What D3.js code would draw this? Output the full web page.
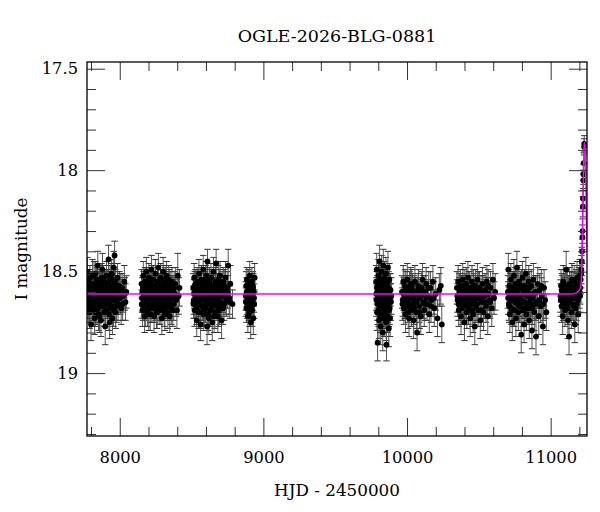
<!DOCTYPE html>
<html>
<head>
<meta charset="utf-8">
<script src="https://cdn.jsdelivr.net/npm/d3@7"></script>
<style>
  body { margin: 0; background: #fff; }
  svg text { font-family: "DejaVu Serif", serif; fill: #000; }
</style>
</head>
<body>
<div id="chart"></div>
<script>
// OGLE light curve, one array per observing season: [HJD-2450000, I mag, error]
var s2017 = [[7775,18.50,.07],[7777,18.63,.06],[7780,18.58,.07],[7782,18.67,.08],[7785,18.55,.06],[7787,18.61,.07],[7790,18.70,.08],[7792,18.53,.06],[7795,18.64,.07],[7798,18.59,.06],[7800,18.76,.08],[7803,18.62,.07],[7806,18.57,.06],[7808,18.66,.07],[7811,18.52,.08],[7814,18.60,.06],[7816,18.69,.07],[7819,18.56,.06],[7822,18.63,.07],[7825,18.73,.08],[7827,18.58,.07],[7830,18.51,.06],[7833,18.65,.07],[7836,18.61,.06],[7838,18.54,.07],[7841,18.68,.08],[7844,18.60,.07],[7847,18.47,.07],[7850,18.63,.06],[7852,18.71,.08],[7855,18.57,.07],[7858,18.62,.06],[7861,18.55,.07],[7863,18.66,.07],[7866,18.59,.06],[7869,18.74,.08],[7872,18.53,.07],[7874,18.64,.06],[7877,18.60,.07],[7880,18.49,.08],[7883,18.67,.07],[7886,18.58,.06],[7888,18.62,.07],[7891,18.70,.07],[7894,18.55,.06],[7897,18.61,.07],[7899,18.77,.09],[7902,18.57,.07],[7905,18.65,.06],[7908,18.52,.07],[7911,18.63,.07],[7913,18.69,.08],[7916,18.59,.06],[7919,18.56,.07],[7922,18.44,.07],[7924,18.66,.07],[7927,18.61,.06],[7930,18.75,.08],[7933,18.54,.07],[7935,18.62,.07],[7938,18.58,.06],[7941,18.68,.07],[7944,18.51,.07],[7947,18.64,.06],[7949,18.73,.08],[7952,18.57,.07],[7955,18.60,.07],[7958,18.48,.08],[7961,18.67,.07],[7964,18.42,.07],[7966,18.62,.07],[7969,18.55,.06],[7972,18.70,.08],[7976,18.59,.07],[7980,18.64,.07],[7984,18.53,.07],[7988,18.66,.08],[7993,18.60,.07],[7998,18.57,.07],[8004,18.63,.08],[8010,18.68,.08],[8017,18.58,.07],[8024,18.62,.08],[8032,18.55,.08],[8040,18.65,.09],[8046,18.60,.08],
  [7776,18.60,.07],[7779,18.66,.07],[7784,18.62,.07],[7788,18.56,.07],[7793,18.68,.07],[7797,18.61,.07],[7802,18.57,.07],[7807,18.64,.07],[7812,18.67,.07],[7817,18.60,.07],[7821,18.52,.07],[7826,18.65,.07],[7831,18.70,.07],[7835,18.58,.07],[7840,18.63,.07],[7845,18.55,.07],[7849,18.68,.07],[7854,18.61,.07],[7859,18.72,.08],[7864,18.56,.07],[7868,18.62,.07],[7873,18.67,.07],[7878,18.58,.07],[7882,18.63,.07],[7887,18.54,.07],[7892,18.65,.07],[7896,18.59,.07],[7901,18.69,.08],[7906,18.60,.07],[7910,18.56,.07],[7915,18.66,.07],[7920,18.62,.07],[7925,18.71,.08],[7929,18.57,.07],[7934,18.64,.07],[7939,18.53,.07],[7943,18.67,.07],[7948,18.61,.07],[7953,18.58,.07],[7957,18.69,.08],[7962,18.55,.07],[7967,18.64,.07],[7971,18.60,.07],[7978,18.67,.08],[7986,18.57,.07],[7996,18.62,.08],[8007,18.59,.08],[8020,18.66,.08],[8036,18.61,.08]];

var s2018 = [[8152,18.56,.07],[8155,18.63,.07],[8158,18.69,.08],[8161,18.58,.06],[8164,18.52,.07],[8167,18.65,.07],[8170,18.61,.06],[8173,18.72,.08],[8176,18.55,.07],[8179,18.62,.06],[8182,18.67,.07],[8185,18.50,.07],[8188,18.59,.06],[8191,18.64,.07],[8194,18.70,.07],[8197,18.57,.06],[8200,18.61,.07],[8203,18.53,.07],[8206,18.66,.06],[8209,18.60,.07],[8212,18.71,.08],[8215,18.56,.06],[8218,18.63,.07],[8221,18.49,.07],[8224,18.68,.07],[8227,18.58,.06],[8230,18.62,.07],[8233,18.54,.07],[8236,18.65,.06],[8239,18.72,.08],[8242,18.59,.07],[8245,18.61,.06],[8248,18.51,.07],[8251,18.67,.07],[8254,18.57,.06],[8257,18.63,.07],[8260,18.70,.08],[8263,18.55,.07],[8266,18.60,.06],[8269,18.48,.07],[8272,18.66,.07],[8275,18.62,.06],[8278,18.58,.07],[8281,18.69,.07],[8284,18.53,.07],[8287,18.64,.06],[8290,18.60,.07],[8293,18.73,.08],[8296,18.56,.07],[8299,18.62,.06],[8302,18.50,.07],[8305,18.67,.07],[8308,18.59,.06],[8311,18.63,.07],[8314,18.71,.08],[8317,18.55,.07],[8320,18.61,.06],[8323,18.66,.07],[8326,18.52,.07],[8329,18.64,.07],[8332,18.58,.06],[8335,18.70,.08],[8338,18.60,.07],[8341,18.54,.07],[8344,18.65,.07],[8348,18.72,.08],[8351,18.57,.07],[8355,18.62,.07],[8359,18.68,.08],[8363,18.55,.07],[8367,18.63,.07],[8371,18.59,.07],[8376,18.66,.08],[8381,18.61,.08],[8387,18.56,.08],[8393,18.64,.08],[8398,18.69,.09],[8404,18.52,.11],[8410,18.62,.09],[8416,18.58,.09],
  [8153,18.66,.07],[8157,18.60,.07],[8162,18.67,.07],[8166,18.57,.07],[8171,18.64,.07],[8175,18.59,.07],[8180,18.69,.08],[8184,18.62,.07],[8189,18.55,.07],[8193,18.66,.07],[8198,18.60,.07],[8202,18.71,.08],[8207,18.57,.07],[8211,18.63,.07],[8216,18.68,.07],[8220,18.59,.07],[8225,18.54,.07],[8229,18.66,.07],[8234,18.61,.07],[8238,18.57,.07],[8243,18.68,.07],[8247,18.63,.07],[8252,18.58,.07],[8256,18.70,.08],[8261,18.61,.07],[8265,18.55,.07],[8270,18.64,.07],[8274,18.69,.07],[8279,18.60,.07],[8283,18.56,.07],[8288,18.67,.07],[8292,18.62,.07],[8297,18.58,.07],[8301,18.65,.07],[8306,18.54,.07],[8310,18.69,.08],[8315,18.60,.07],[8319,18.66,.07],[8324,18.57,.07],[8328,18.62,.07],[8333,18.67,.07],[8337,18.59,.07],[8342,18.63,.07],[8346,18.56,.07],[8353,18.66,.08],[8361,18.60,.08],[8369,18.69,.08],[8379,18.58,.08],[8390,18.62,.08]];

var s2019 = [[8512,18.58,.07],[8515,18.64,.07],[8518,18.53,.07],[8521,18.69,.08],[8524,18.60,.06],[8527,18.56,.07],[8530,18.66,.07],[8533,18.62,.06],[8536,18.74,.08],[8539,18.55,.07],[8542,18.63,.07],[8545,18.59,.06],[8548,18.70,.08],[8551,18.51,.07],[8554,18.65,.07],[8557,18.61,.06],[8560,18.57,.07],[8563,18.76,.08],[8566,18.62,.07],[8569,18.54,.07],[8572,18.67,.07],[8575,18.59,.06],[8578,18.63,.07],[8581,18.49,.07],[8584,18.71,.08],[8587,18.58,.07],[8590,18.64,.07],[8593,18.56,.06],[8596,18.68,.07],[8599,18.60,.07],[8602,18.52,.07],[8605,18.66,.07],[8608,18.77,.09],[8611,18.45,.06],[8614,18.62,.07],[8617,18.58,.07],[8620,18.73,.08],[8623,18.55,.07],[8626,18.64,.07],[8629,18.60,.06],[8632,18.69,.08],[8635,18.53,.07],[8638,18.62,.07],[8641,18.57,.06],[8644,18.75,.09],[8647,18.61,.07],[8650,18.66,.07],[8653,18.50,.07],[8656,18.63,.07],[8659,18.59,.06],[8662,18.70,.08],[8665,18.56,.07],[8668,18.64,.07],[8671,18.46,.07],[8674,18.61,.07],[8677,18.67,.07],[8680,18.58,.07],[8683,18.72,.08],[8686,18.54,.07],[8689,18.63,.07],[8692,18.60,.07],[8695,18.68,.08],[8698,18.52,.07],[8701,18.65,.07],[8705,18.59,.07],[8709,18.74,.09],[8713,18.57,.07],[8717,18.62,.08],[8721,18.55,.07],[8726,18.66,.08],[8731,18.60,.08],[8736,18.53,.08],[8742,18.64,.08],[8748,18.58,.08],[8755,18.47,.08],[8762,18.63,.08],[8770,18.56,.09],[8785,18.66,.07],
  [8513,18.66,.07],[8517,18.61,.07],[8522,18.57,.07],[8526,18.64,.07],[8531,18.59,.07],[8535,18.68,.08],[8540,18.62,.07],[8544,18.56,.07],[8549,18.65,.07],[8553,18.60,.07],[8558,18.70,.08],[8562,18.58,.07],[8567,18.63,.07],[8571,18.55,.07],[8576,18.67,.07],[8580,18.61,.07],[8585,18.57,.07],[8589,18.69,.08],[8594,18.62,.07],[8598,18.54,.07],[8603,18.64,.07],[8607,18.59,.07],[8612,18.66,.07],[8616,18.71,.08],[8621,18.60,.07],[8625,18.56,.07],[8630,18.65,.07],[8634,18.61,.07],[8639,18.68,.08],[8643,18.57,.07],[8648,18.63,.07],[8652,18.59,.07],[8657,18.72,.08],[8661,18.62,.07],[8666,18.55,.07],[8670,18.66,.07],[8675,18.60,.07],[8679,18.64,.07],[8684,18.58,.07],[8688,18.69,.08],[8693,18.61,.07],[8697,18.56,.07],[8703,18.66,.08],[8711,18.62,.08],[8719,18.68,.08],[8728,18.57,.08],[8739,18.63,.08],[8751,18.60,.08],[8766,18.65,.08]];

var s2020 = [[8877,18.62,.07],[8880,18.57,.07],[8882,18.68,.07],[8885,18.54,.06],[8887,18.64,.07],[8890,18.60,.07],[8892,18.72,.08],[8895,18.56,.07],[8897,18.63,.07],[8900,18.59,.06],[8902,18.70,.07],[8905,18.52,.07],[8907,18.66,.07],[8910,18.61,.07],[8912,18.75,.08],[8915,18.58,.07],[8917,18.65,.07],[8920,18.55,.07],[8922,18.69,.08],[8925,18.62,.07],[8927,18.57,.07],[8930,18.73,.08],[8933,18.60,.07],[8936,18.66,.07],[8939,18.53,.07],
  [8878,18.65,.07],[8884,18.60,.07],[8889,18.66,.07],[8894,18.62,.07],[8899,18.67,.07],[8904,18.59,.07],[8909,18.64,.07],[8914,18.68,.07],[8919,18.61,.07],[8924,18.65,.07],[8929,18.58,.07],[8935,18.63,.07]];

var s2022 = [[9785,18.55,.08],[9787,18.64,.08],[9789,18.49,.08],[9791,18.70,.09],[9793,18.60,.08],[9795,18.85,.09],[9797,18.57,.08],[9799,18.66,.08],[9801,18.52,.08],[9803,18.62,.08],[9805,18.74,.09],[9807,18.58,.08],[9809,18.45,.08],[9811,18.68,.08],[9813,18.61,.08],[9815,18.54,.08],[9817,18.77,.09],[9819,18.63,.08],[9821,18.59,.08],[9823,18.50,.08],[9825,18.71,.08],[9827,18.56,.08],[9829,18.65,.08],[9831,18.80,.09],[9833,18.60,.08],[9835,18.47,.08],[9837,18.67,.08],[9839,18.58,.08],[9841,18.73,.09],[9843,18.53,.08],[9845,18.62,.08],[9847,18.69,.08],[9849,18.57,.08],[9851,18.64,.08],[9853,18.51,.08],[9855,18.75,.09],[9857,18.86,.08],[9859,18.60,.08],[9861,18.66,.08],[9863,18.55,.08],[9865,18.72,.08],[9867,18.48,.08],[9869,18.63,.08],[9871,18.58,.08],[9873,18.78,.09],[9875,18.61,.08],[9877,18.54,.08],[9879,18.68,.08],[9882,18.73,.09],[9885,18.59,.08],[9888,18.65,.09],[9891,18.62,.09],
  [9786,18.61,.08],[9790,18.58,.08],[9794,18.66,.08],[9798,18.62,.08],[9802,18.69,.08],[9806,18.56,.08],[9810,18.63,.08],[9814,18.72,.08],[9818,18.59,.08],[9822,18.65,.08],[9826,18.61,.08],[9830,18.55,.08],[9834,18.68,.08],[9838,18.62,.08],[9842,18.58,.08],[9846,18.66,.08],[9850,18.70,.08],[9854,18.60,.08],[9858,18.64,.08],[9862,18.57,.08],[9866,18.67,.08],[9870,18.61,.08],[9874,18.69,.08],[9878,18.59,.08],[9884,18.64,.08]];

var s2023 = [[9965,18.60,.08],[9970,18.64,.08],[9974,18.55,.08],[9978,18.68,.08],[9982,18.62,.08],[9986,18.57,.08],[9990,18.71,.09],[9994,18.60,.08],[9998,18.65,.08],[10002,18.54,.08],[10006,18.67,.08],[10010,18.61,.08],[10014,18.73,.09],[10018,18.58,.08],[10022,18.63,.08],[10026,18.56,.08],[10030,18.69,.08],[10034,18.62,.08],[10038,18.59,.08],[10042,18.66,.08],[10046,18.74,.09],[10050,18.60,.08],[10055,18.55,.08],[10060,18.64,.08],[10065,18.70,.08],[10070,18.80,.09],[10075,18.61,.08],[10080,18.57,.08],[10085,18.67,.08],[10090,18.63,.08],[10096,18.72,.09],[10102,18.58,.08],[10108,18.54,.08],[10114,18.65,.08],[10120,18.69,.08],[10126,18.60,.08],[10133,18.56,.08],[10140,18.66,.08],[10147,18.62,.08],[10155,18.71,.09],[10163,18.58,.08],[10171,18.64,.08],[10180,18.55,.08],[10190,18.68,.09],[10200,18.61,.08],[10212,18.73,.09],[10225,18.59,.08],[10235,18.57,.09],[10242,18.76,.09],
  [9968,18.66,.08],[9976,18.61,.08],[9984,18.65,.08],[9992,18.58,.08],[10000,18.62,.08],[10008,18.70,.08],[10016,18.60,.08],[10024,18.66,.08],[10032,18.57,.08],[10040,18.63,.08],[10048,18.68,.08],[10058,18.61,.08],[10068,18.65,.08],[10078,18.59,.08],[10088,18.70,.08],[10099,18.62,.08],[10111,18.60,.08],[10123,18.66,.08],[10137,18.63,.08],[10151,18.58,.08],[10167,18.67,.08],[10186,18.63,.08]];

var s2024 = [[10347,18.58,.08],[10352,18.64,.08],[10356,18.55,.08],[10360,18.69,.08],[10364,18.61,.08],[10368,18.66,.08],[10372,18.57,.08],[10376,18.72,.09],[10380,18.60,.08],[10384,18.63,.08],[10388,18.54,.08],[10392,18.67,.08],[10396,18.62,.08],[10400,18.75,.09],[10404,18.59,.08],[10408,18.65,.08],[10412,18.56,.08],[10416,18.70,.08],[10420,18.61,.08],[10424,18.53,.08],[10428,18.68,.08],[10432,18.63,.08],[10436,18.58,.08],[10440,18.73,.09],[10444,18.60,.08],[10448,18.66,.08],[10452,18.55,.08],[10456,18.64,.08],[10460,18.71,.09],[10464,18.59,.08],[10468,18.62,.08],[10472,18.77,.09],[10476,18.57,.08],[10480,18.67,.08],[10485,18.61,.08],[10490,18.54,.08],[10495,18.69,.08],[10500,18.63,.08],[10505,18.58,.08],[10510,18.74,.09],[10515,18.60,.08],[10520,18.65,.08],[10526,18.56,.08],[10532,18.70,.09],[10538,18.62,.08],[10544,18.59,.08],[10550,18.67,.08],[10556,18.55,.08],[10562,18.72,.09],[10568,18.61,.08],[10575,18.64,.08],[10582,18.58,.08],[10590,18.68,.09],[10598,18.54,.08],[10606,18.63,.08],[10614,18.60,.09],
  [10350,18.62,.08],[10358,18.66,.08],[10366,18.59,.08],[10374,18.64,.08],[10382,18.68,.08],[10390,18.60,.08],[10398,18.57,.08],[10406,18.63,.08],[10414,18.66,.08],[10422,18.60,.08],[10430,18.58,.08],[10438,18.65,.08],[10446,18.62,.08],[10454,18.69,.08],[10462,18.57,.08],[10470,18.64,.08],[10478,18.60,.08],[10488,18.66,.08],[10498,18.58,.08],[10508,18.63,.08],[10518,18.69,.08],[10529,18.60,.08],[10541,18.65,.08],[10553,18.61,.08],[10565,18.57,.08],[10579,18.65,.08]];

var s2025 = [[10702,18.60,.08],[10705,18.49,.08],[10709,18.66,.08],[10712,18.57,.08],[10716,18.71,.09],[10719,18.62,.08],[10723,18.54,.08],[10726,18.68,.08],[10730,18.60,.08],[10733,18.75,.09],[10737,18.58,.08],[10740,18.64,.08],[10744,18.52,.08],[10747,18.69,.08],[10751,18.61,.08],[10754,18.56,.08],[10758,18.73,.09],[10761,18.63,.08],[10765,18.48,.08],[10768,18.66,.08],[10772,18.59,.08],[10775,18.70,.09],[10779,18.55,.08],[10782,18.62,.08],[10786,18.67,.08],[10790,18.58,.08],[10795,18.81,.09],[10799,18.64,.08],[10803,18.53,.08],[10807,18.69,.08],[10811,18.60,.08],[10815,18.76,.09],[10819,18.57,.08],[10823,18.65,.08],[10827,18.51,.08],[10831,18.71,.08],[10835,18.62,.08],[10839,18.58,.08],[10843,18.68,.08],[10847,18.55,.08],[10851,18.74,.09],[10855,18.61,.08],[10860,18.66,.08],[10865,18.57,.08],[10870,18.79,.09],[10875,18.63,.08],[10880,18.54,.08],[10886,18.70,.09],[10892,18.60,.08],[10898,18.82,.09],[10904,18.65,.08],[10910,18.56,.08],[10917,18.72,.09],[10924,18.59,.08],[10931,18.67,.08],[10938,18.62,.09],[10946,18.77,.09],[10954,18.58,.09],[10962,18.64,.09],[10970,18.70,.09],
  [10704,18.63,.08],[10711,18.67,.08],[10718,18.59,.08],[10725,18.64,.08],[10732,18.61,.08],[10739,18.69,.08],[10746,18.58,.08],[10753,18.65,.08],[10760,18.60,.08],[10767,18.56,.08],[10774,18.64,.08],[10781,18.67,.08],[10788,18.62,.08],[10797,18.57,.08],[10805,18.65,.08],[10813,18.61,.08],[10821,18.68,.08],[10829,18.59,.08],[10837,18.66,.08],[10845,18.62,.08],[10853,18.58,.08],[10862,18.64,.08],[10872,18.68,.08],[10883,18.61,.08],[10895,18.66,.08],[10907,18.60,.08],[10921,18.64,.08],[10935,18.57,.08],[10950,18.66,.08]];

var s2026 = [[11068,18.62,.08],[11072,18.57,.08],[11076,18.67,.08],[11080,18.60,.08],[11084,18.72,.09],[11088,18.55,.08],[11092,18.64,.08],[11096,18.59,.08],[11100,18.69,.08],[11104,18.62,.08],[11108,18.49,.09],[11112,18.66,.08],[11116,18.58,.08],[11120,18.74,.09],[11124,18.61,.08],[11128,18.82,.09],[11132,18.56,.08],[11136,18.65,.08],[11140,18.60,.08],[11144,18.70,.08],[11148,18.54,.08],[11152,18.63,.08],[11156,18.58,.08],[11160,18.67,.08],[11164,18.55,.08],[11168,18.76,.09],[11172,18.61,.08],[11176,18.57,.08],[11180,18.66,.08],[11184,18.53,.08],[11188,18.62,.08],[11192,18.71,.09],[11196,18.56,.08],[11200,18.60,.08],[11203,18.52,.08],[11206,18.58,.08],[11209,18.54,.07],[11212,18.51,.07],[11214,18.49,.07],[11217,18.45,.07],[11219,18.40,.06],[11221,18.33,.06],[11222,18.30,.06],[11224,18.18,.05],[11225,18.14,.05],[11227,18.05,.05],[11228,18.02,.05],[11230,17.965,.05],[11233,17.885,.04],[11234,17.87,.04],
  [11070,18.64,.08],[11078,18.59,.08],[11086,18.66,.08],[11094,18.61,.08],[11102,18.57,.08],[11110,18.63,.08],[11118,18.68,.08],[11126,18.60,.08],[11134,18.64,.08],[11142,18.58,.08],[11150,18.66,.08],[11158,18.61,.08],[11166,18.63,.08],[11174,18.68,.08],[11182,18.59,.08],[11190,18.64,.08],[11198,18.57,.08],[11205,18.62,.08]];

// model curve
var modelT = [7772, 11150, 11180, 11200, 11208, 11213, 11216, 11219, 11222, 11225, 11228, 11231, 11234, 11237, 11240, 11244, 11248, 11251, 11254];
var modelM = [18.61, 18.61, 18.605, 18.59, 18.575, 18.55, 18.49, 18.40, 18.28, 18.15, 18.03, 17.93, 17.865, 17.87, 17.92, 18.03, 18.19, 18.31, 18.40];

var xMajor = [8000, 9000, 10000, 11000];
var yMajor = [17.5, 18, 18.5, 19];

var seasons = [s2017, s2018, s2019, s2020, s2022, s2023, s2024, s2025, s2026];
var data = [];
seasons.forEach(function (s) { s.forEach(function (d) { data.push(d); }); });

var margin = {top: 62, right: 13, bottom: 76, left: 87};
var width = 600 - margin.left - margin.right;
var height = 512 - margin.top - margin.bottom;

var x = d3.scaleLinear().domain([7772, 11253]).range([0, width]);
var y = d3.scaleLinear().domain([17.467, 19.31]).range([0, height]);

var svg = d3.select("#chart").append("svg")
  .attr("width", 600)
  .attr("height", 512);

var g = svg.append("g")
  .attr("transform", "translate(" + margin.left + "," + margin.top + ")");

g.append("clipPath").attr("id", "clip")
  .append("rect").attr("width", width).attr("height", height);

var plot = g.append("g").attr("clip-path", "url(#clip)");

//error bars
var bars = plot.selectAll(".err").data(data).enter().append("g").attr("class", "err");
bars.append("line")
  .attr("x1", function (d) { return x(d[0]); })
  .attr("x2", function (d) { return x(d[0]); })
  .attr("y1", function (d) { return y(d[1] - d[2]); })
  .attr("y2", function (d) { return y(d[1] + d[2]); })
  .attr("stroke", "#555").attr("stroke-width", 1);
[-1, 1].forEach(function (sgn) {
  bars.append("line")
    .attr("x1", function (d) { return x(d[0]) - 3.2; })
    .attr("x2", function (d) { return x(d[0]) + 3.2; })
    .attr("y1", function (d) { return y(d[1] + sgn * d[2]); })
    .attr("y2", function (d) { return y(d[1] + sgn * d[2]); })
    .attr("stroke", "#333").attr("stroke-width", 1);
});

//points
plot.selectAll(".dot").data(data).enter().append("circle")
  .attr("class", "dot")
  .attr("cx", function (d) { return x(d[0]); })
  .attr("cy", function (d) { return y(d[1]); })
  .attr("r", 2.9)
  .style("fill", "#000");

//model
var line = d3.line()
  .x(function (d, i) { return x(modelT[i]); })
  .y(function (d) { return y(d); })
  .curve(d3.curveMonotoneX);
plot.append("path")
  .attr("d", line(modelM))
  .attr("fill", "none")
  .attr("stroke", "#ff00ff")
  .attr("stroke-width", 1.5);

//axes, ticks inward on all four sides
var xMinor = d3.range(7800, 11253, 200).filter(function (v) { return xMajor.indexOf(v) < 0; });
var yMinor = d3.range(175, 194).map(function (v) { return v / 10; }).filter(function (v) { return yMajor.indexOf(v) < 0; });

function styleAxis(sel) {
  sel.select(".domain").remove();
  sel.selectAll(".tick line").attr("stroke", "#333");
  sel.selectAll("text").style("font-family", "DejaVu Serif").style("font-size", "16.3px").attr("fill", "#000");
}

g.append("g").attr("transform", "translate(0," + height + ")")
  .call(d3.axisBottom(x).tickValues(xMajor).tickSize(-18).tickPadding(15).tickFormat(d3.format("d")))
  .call(styleAxis);
g.append("g").attr("transform", "translate(0," + height + ")")
  .call(d3.axisBottom(x).tickValues(xMinor).tickSize(-9).tickFormat(""))
  .call(styleAxis);
g.append("g")
  .call(d3.axisTop(x).tickValues(xMajor).tickSize(-18).tickFormat(""))
  .call(styleAxis);
g.append("g")
  .call(d3.axisTop(x).tickValues(xMinor).tickSize(-9).tickFormat(""))
  .call(styleAxis);

g.append("g")
  .call(d3.axisLeft(y).tickValues(yMajor).tickSize(-18).tickPadding(9).tickFormat(function (d) { return String(d); }))
  .call(styleAxis);
g.append("g")
  .call(d3.axisLeft(y).tickValues(yMinor).tickSize(-9).tickFormat(""))
  .call(styleAxis);
g.append("g").attr("transform", "translate(" + width + ",0)")
  .call(d3.axisRight(y).tickValues(yMajor).tickSize(-18).tickFormat(""))
  .call(styleAxis);
g.append("g").attr("transform", "translate(" + width + ",0)")
  .call(d3.axisRight(y).tickValues(yMinor).tickSize(-9).tickFormat(""))
  .call(styleAxis);

g.append("rect")
  .attr("width", width).attr("height", height)
  .attr("fill", "none").attr("stroke", "#000").attr("stroke-width", 1.3);

//labels
svg.append("text")
  .attr("x", margin.left + width / 2).attr("y", 42)
  .attr("text-anchor", "middle")
  .style("font-size", "17.5px")
  .text("OGLE-2026-BLG-0881");

svg.append("text")
  .attr("x", margin.left + width / 2).attr("y", 496)
  .attr("text-anchor", "middle")
  .style("font-size", "16.8px")
  .text("HJD - 2450000");

svg.append("text")
  .attr("text-anchor", "middle")
  .attr("transform", "translate(27," + (margin.top + height / 2) + ") rotate(-90)")
  .style("font-size", "16.8px")
  .text("I magnitude");
</script>
</body>
</html>
